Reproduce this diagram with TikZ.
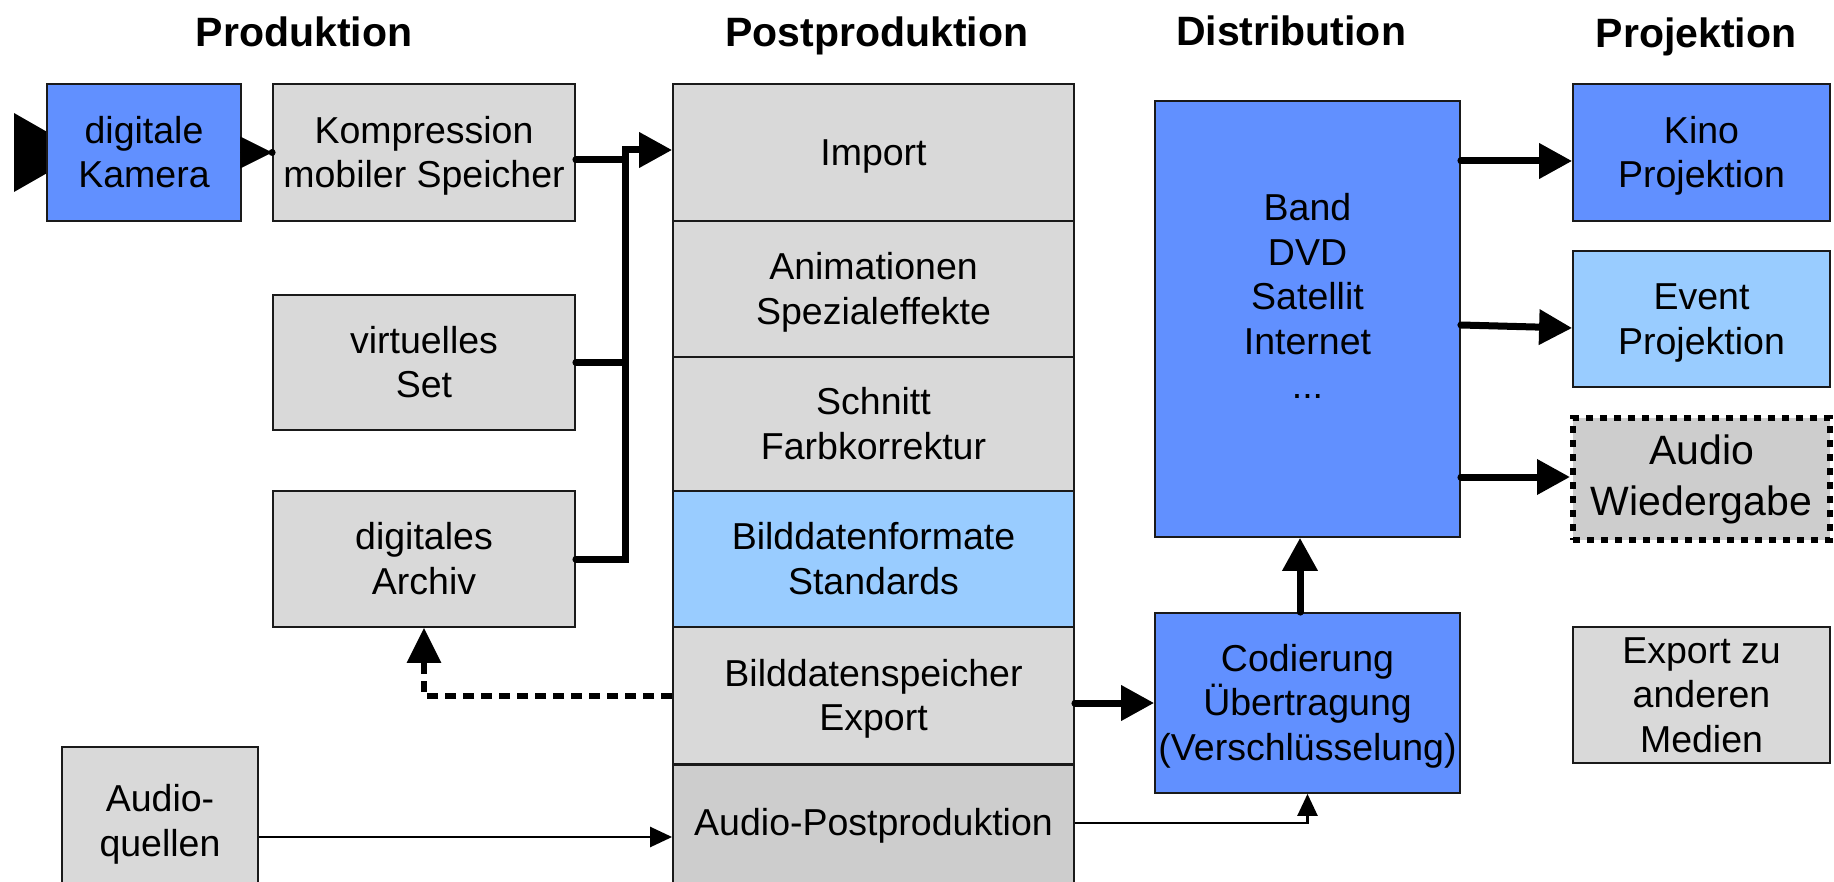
\documentclass[tikz,border=0pt]{standalone}
\usepackage{fontspec}
\setmainfont{Liberation Sans}
\usetikzlibrary{arrows.meta,calc}
\definecolor{cblue}{HTML}{6190FF}
\definecolor{clight}{HTML}{99CCFF}
\definecolor{cgray}{HTML}{D9D9D9}
\definecolor{cdark}{HTML}{CDCDCD}
\definecolor{cedge}{HTML}{1A1A1A}
\newcommand{\bodyfont}{\fontsize{37.5pt}{44.5pt}\selectfont}
\newcommand{\titlefont}{\fontsize{41pt}{49pt}\selectfont\bfseries}
\newcommand{\lnstrut}{\vrule width 0pt height 0.905em depth 0.212em\relax}
\begin{document}
\begin{tikzpicture}[x=1pt,y=-1pt,
 box/.style={draw=cedge, line width=1.8pt, rectangle, inner sep=0pt, align=center, font=\bodyfont, text=black,
   execute at end node=\lnstrut},
 bluebox/.style={box, fill=cblue},
 graybox/.style={box, fill=cgray},
 lightbox/.style={box, fill=clight},
 coltitle/.style={font=\titlefont, anchor=base, inner sep=0pt},
 txt/.style={inner sep=0pt, align=center, font=\bodyfont, execute at end node=\lnstrut},
 thickline/.style={line width=7pt, line cap=round, line join=miter},
 thickarrow/.style={thickline, -{Triangle[length=33pt,width=34pt]}},
 thinarrow/.style={line width=2.5pt, -{Triangle[length=22pt,width=20pt]}},
 dasharrow/.style={line width=6pt, dash pattern=on 11pt off 7pt, -{Triangle[length=35pt,width=33pt]}},
]
\useasboundingbox (0,0) rectangle (1834,882);

% titles
\node[coltitle] (t1) at (304,46.5) {Produktion};
\node[coltitle] (t2) at (877,46.5) {Postproduktion};
\node[coltitle] (t3) at (1291,45.5) {Distribution};
\node[coltitle] (t4) at (1696,47.5) {Projektion};

% incoming arrow head (free end off the page)
\coordinate (camin) at (14,152.5);
\fill (14,113) -- (83,152.5) -- (14,192) -- cycle;

% Produktion
\node[bluebox, minimum width=194pt, minimum height=137pt] (kam) at (144,152.5) {\lnstrut digitale\\Kamera};
\node[graybox, minimum width=302pt, minimum height=137pt] (komp) at (424,152.5) {\lnstrut Kompression\\mobiler Speicher};
\node[graybox, minimum width=302pt, minimum height=135pt] (vset) at (424,362.5) {\lnstrut virtuelles\\Set};
\node[graybox, minimum width=302pt, minimum height=136pt] (arch) at (424,559) {\lnstrut digitales\\Archiv};
\node[graybox, minimum width=196pt, minimum height=148pt] (aq) at (160,821) {\lnstrut Audio-\\quellen};

% Postproduktion
\node[graybox, minimum width=401pt, minimum height=137pt] (imp) at (873.5,152.5) {\lnstrut Import};
\node[graybox, minimum width=401pt, minimum height=136pt] (anim) at (873.5,289) {\lnstrut Animationen\\Spezialeffekte};
\node[graybox, minimum width=401pt, minimum height=134pt] (schn) at (873.5,424) {\lnstrut Schnitt\\Farbkorrektur};
\node[lightbox, minimum width=401pt, minimum height=136pt] (bfmt) at (873.5,559) {\lnstrut Bilddatenformate\\Standards};
\node[graybox, minimum width=401pt, minimum height=137pt] (bsp) at (873.5,695.5) {\lnstrut Bilddatenspeicher\\Export};
\node[box, fill=cdark, minimum width=401pt, minimum height=131pt, anchor=north] (apost) at (873.5,764) {};
\node[txt] (apostt) at (873.5,823) {\lnstrut Audio-Postproduktion};

% Distribution
\node[bluebox, minimum width=305pt, minimum height=436pt] (band) at (1307.5,319) {};
\node[txt] (bandt) at (1307.5,297) {\lnstrut Band\\DVD\\Satellit\\Internet\\...};
\node[bluebox, minimum width=305pt, minimum height=180pt] (cod) at (1307.5,703) {\lnstrut Codierung\\Übertragung\\(Verschlüsselung)};

% Projektion
\node[bluebox, minimum width=257pt, minimum height=137pt] (kino) at (1701.5,152.5) {\lnstrut Kino\\Projektion};
\node[lightbox, minimum width=257pt, minimum height=136pt] (event) at (1701.5,319) {\lnstrut Event\\Projektion};
\node[box, fill=cdark, draw=black, line width=6pt, dash pattern=on 7pt off 7pt, minimum width=257pt, minimum height=122pt, font=\fontsize{41pt}{51pt}\selectfont] (audw) at (1701.5,479) {Audio\\Wiedergabe};
\node[graybox, minimum width=257pt, minimum height=136pt] (expo) at (1701.5,695) {\lnstrut Export zu\\anderen\\Medien};

% connectors
\coordinate (bustop) at (625,150);
\coordinate (busbot) at (625,559);
\draw[line width=0.5pt, -{Triangle[length=32pt,width=32pt]}] (kam.east) -- (komp.west);
\fill (komp.west) circle (3.5pt);
\draw[thickline] ($(komp.east)+(0,7.5)$) -- ($(bustop)+(0,10)$);
\draw[thickline] (vset.east) -- (vset.east -| bustop);
\draw[thickarrow] (arch.east) -- (busbot) -- (bustop) -- (bustop -| imp.west);
\draw[dasharrow] (bsp.west) -| (arch.south);
\draw[thickarrow] (bsp.east |- cod.west) -- (cod.west);
\draw[thinarrow] ($(aq.east)+(0,16)$) -- ($(aq.east -| apost.west)+(0,16)$);
\draw[thinarrow] (apostt -| apost.east) -| (cod.south);
\draw[thickarrow] ($(cod.north)+(-7.5,0)$) -- ($(band.south)+(-7.5,0)$);
\draw[thickarrow] ($(kino.west -| band.east)+(0,8.5)$) -- ($(kino.west)+(0,8.5)$);
\draw[thickarrow] ($(event.west -| band.east)+(0,6)$) -- ($(event.west)+(0,9)$);
\draw[thickarrow] ($(audw.west -| band.east)+(0,-2)$) -- ($(audw.west)+(0,-2)$);
\end{tikzpicture}
\end{document}
